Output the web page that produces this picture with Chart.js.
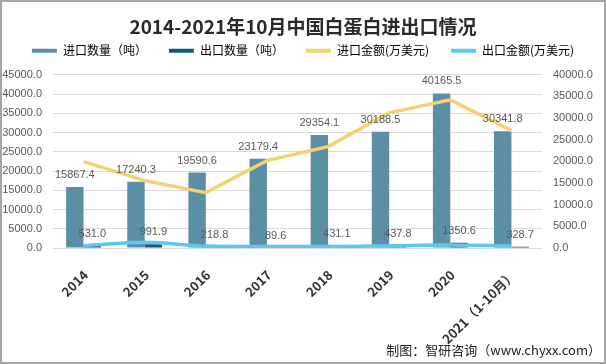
<!DOCTYPE html>
<html><head><meta charset="utf-8">
<script src="https://cdn.jsdelivr.net/npm/chart.js@4"></script>
<style>
html,body{margin:0;padding:0;background:#fff;}
#wrap{position:relative;width:606px;height:364px;overflow:hidden;}
#frame{position:absolute;left:0;top:0;width:606px;height:364px;box-sizing:border-box;border:2px solid #a6a6a6;pointer-events:none;}
#src{position:absolute;right:5px;top:341px;font:13px "Noto Sans CJK SC";color:#222;white-space:nowrap;line-height:18px;}
</style></head>
<body><div id="wrap"><canvas id="c" width="606" height="364"></canvas><div id="src">制图：智研咨询（www.chyxx.com）</div><div id="frame"></div></div>
<script>
const categories = ['2014','2015','2016','2017','2018','2019','2020','2021（1-10月）'];
const importQty = [15867.4, 17240.3, 19590.6, 23179.4, 29354.1, 30188.5, 40165.5, 30341.8];
const exportQty = [531.0, 991.9, 218.8, 89.6, 431.1, 437.8, 1350.6, 328.7];
const importAmt = [19950, 15560, 12790, 20190, 23420, 31200, 34220, 27120];
const exportAmt = [530, 1320, 460, 350, 350, 500, 700, 450];
const seriesNames = ['进口数量（吨）', '出口数量（吨）', '进口金额(万美元)', '出口金额(万美元)'];
const titleText = '2014-2021年10月中国白蛋白进出口情况';
const leftMax = 45000, rightMax = 40000, tickStep = 5000;

const colors = ['#5b8fa6', '#17587a', '#f6d074', '#5fc6ef'];

const barLabels = {
  id: 'barLabels',
  afterDatasetsDraw(chart) {
    const ctx = chart.ctx;
    ctx.save();
    ctx.font = '11px "Liberation Sans", Arial, sans-serif';
    ctx.fillStyle = '#595959';
    ctx.textAlign = 'center';
    ctx.textBaseline = 'middle';
    [0, 1].forEach(di => {
      const meta = chart.getDatasetMeta(di);
      meta.data.forEach((bar, i) => {
        const v = chart.data.datasets[di].data[i];
        ctx.fillText(v.toFixed(1), bar.x, bar.y - 12);
      });
    });
    ctx.restore();
  }
};
const legendMargin = {
  id: 'legendMargin',
  beforeInit(chart) {
    const fit = chart.legend.fit;
    chart.legend.fit = function () { fit.call(this); this.height += 8; };
  }
};

new Chart(document.getElementById('c'), {
  data: {
    labels: categories,
    datasets: [
      { type: 'bar', label: seriesNames[0], data: importQty, backgroundColor: colors[0], yAxisID: 'y', order: 2 },
      { type: 'bar', label: seriesNames[1], data: exportQty, backgroundColor: colors[1], yAxisID: 'y', order: 2 },
      { type: 'line', label: seriesNames[2], data: importAmt, borderColor: colors[2], backgroundColor: colors[2], borderWidth: 3.5, pointRadius: 0, tension: 0, yAxisID: 'y1', order: 1 },
      { type: 'line', label: seriesNames[3], data: exportAmt, borderColor: colors[3], backgroundColor: colors[3], borderWidth: 3.5, pointRadius: 0, tension: 0.4, cubicInterpolationMode: 'monotone', yAxisID: 'y1', order: 1 }
    ]
  },
  options: {
    responsive: false,
    devicePixelRatio: 1,
    animation: false,
    layout: { padding: { left: 0, right: 0, top: 0, bottom: 0 } },
    datasets: { bar: { categoryPercentage: 0.57, barPercentage: 1.0 } },
    plugins: {
      tooltip: { enabled: false },
      title: {
        display: true, text: titleText, color: '#2a2a2a',
        font: { family: '"Noto Sans CJK SC"', size: 19, weight: 'bold' },
        padding: { top: 15, bottom: -15 }
      },
      legend: {
        display: true,
        labels: {
          boxWidth: 25, boxHeight: 4, padding: 22, color: '#222',
          font: { family: '"Noto Sans CJK SC"', size: 12 },
          generateLabels(chart) {
            return chart.data.datasets.map((ds, i) => ({
              text: ds.label, fillStyle: colors[i], strokeStyle: colors[i], lineWidth: 0, hidden: false, datasetIndex: i
            }));
          }
        }
      }
    },
    scales: {
      x: {
        grid: { display: false }, border: { display: false },
        afterFit(scale) { scale.height = 116; scale.paddingLeft = 0; scale.paddingRight = 0; },
        ticks: {
          autoSkip: false, maxRotation: 45, minRotation: 45, color: '#333', padding: 11, labelOffset: 2,
          font: { family: '"Noto Sans CJK SC"', size: 13, weight: 'bold' }
        }
      },
      y: {
        position: 'left', min: 0, max: leftMax,
        afterFit(scale) { scale.width = 53; },
        grid: { color: '#d9d9d9', drawTicks: false }, border: { display: false },
        ticks: { stepSize: tickStep, padding: 11, color: '#595959', font: { family: '"Liberation Sans"', size: 11 }, callback: v => v.toFixed(1) }
      },
      y1: {
        position: 'right', min: 0, max: rightMax,
        afterFit(scale) { scale.width = 64; },
        grid: { display: false, drawTicks: false }, border: { display: false },
        ticks: { stepSize: tickStep, padding: 11, color: '#595959', font: { family: '"Liberation Sans"', size: 11 }, callback: v => v.toFixed(1) }
      }
    }
  },
  plugins: [barLabels, legendMargin]
});
</script>
</body></html>
